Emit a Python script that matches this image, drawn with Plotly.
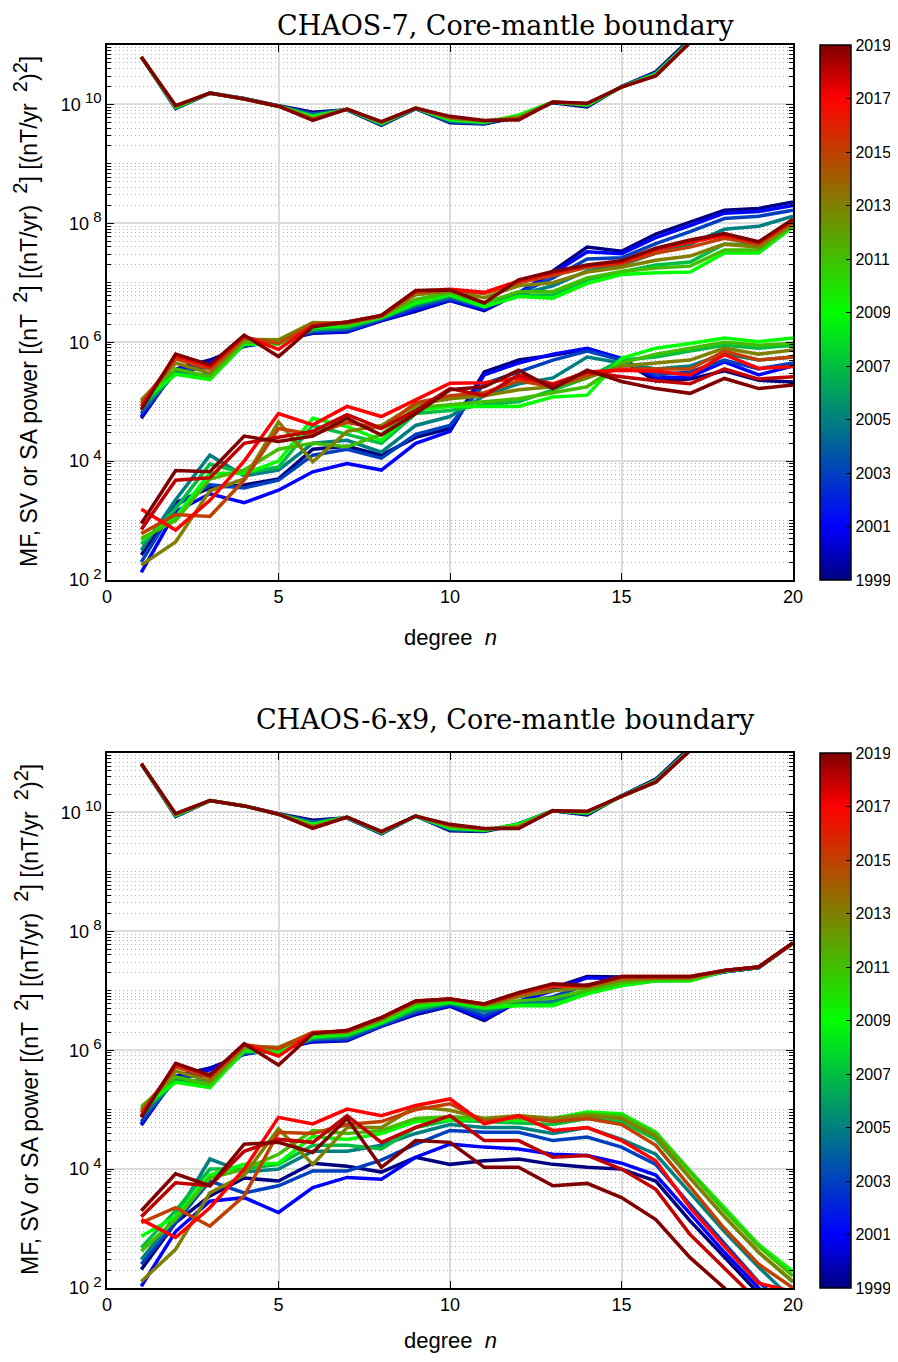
import plotly.graph_objects as go
from plotly.subplots import make_subplots
from plotly.colors import sample_colorscale

degrees = list(range(1, 21))

mf_years = [1999, 2004, 2009, 2014, 2019]
sv_years = [1999, 2001, 2003, 2005, 2007, 2009, 2011, 2013, 2015, 2017, 2019]
sa_years = [1999, 2001, 2003, 2005, 2007, 2009, 2011, 2013, 2015, 2017, 2018, 2019]
cbar_years = [1999, 2001, 2003, 2005, 2007, 2009, 2011, 2013, 2015, 2017, 2019]

# all values are log10 of the spectral power, one row per epoch, n = 1..20

# CHAOS-7, main field
mf_chaos7 = [
    [10.80, 9.93, 10.19, 10.10, 9.98, 9.87, 9.91, 9.65, 9.93, 9.69, 9.67, 9.79, 10.03, 9.96, 10.30, 10.55, 11.10, 11.45, 11.70, 11.95],
    [10.80, 9.94, 10.19, 10.10, 9.97, 9.84, 9.91, 9.66, 9.93, 9.71, 9.68, 9.81, 10.04, 9.98, 10.30, 10.53, 11.08, 11.43, 11.68, 11.93],
    [10.80, 9.95, 10.19, 10.09, 9.97, 9.80, 9.92, 9.68, 9.94, 9.74, 9.70, 9.82, 10.04, 9.99, 10.29, 10.51, 11.06, 11.42, 11.67, 11.92],
    [10.80, 9.97, 10.19, 10.09, 9.97, 9.76, 9.92, 9.70, 9.94, 9.77, 9.72, 9.78, 10.04, 10.01, 10.29, 10.49, 11.05, 11.41, 11.66, 11.91],
    [10.80, 9.98, 10.19, 10.09, 9.97, 9.73, 9.92, 9.71, 9.94, 9.80, 9.73, 9.74, 10.04, 10.02, 10.29, 10.48, 11.04, 11.40, 11.65, 11.90],
]

# CHAOS-7, secular variation
sv_chaos7 = [
    [4.72, 5.55, 5.70, 5.93, 6.03, 6.15, 6.17, 6.36, 6.52, 6.70, 6.53, 6.82, 7.20, 7.60, 7.53, 7.82, 8.02, 8.22, 8.25, 8.36],
    [4.75, 5.53, 5.66, 5.94, 6.02, 6.16, 6.18, 6.37, 6.54, 6.71, 6.55, 6.83, 7.16, 7.52, 7.49, 7.76, 7.96, 8.17, 8.20, 8.30],
    [4.80, 5.50, 5.58, 5.95, 6.00, 6.18, 6.20, 6.38, 6.58, 6.73, 6.58, 6.82, 7.08, 7.40, 7.42, 7.66, 7.86, 8.08, 8.12, 8.22],
    [4.85, 5.48, 5.45, 5.96, 5.98, 6.20, 6.23, 6.40, 6.62, 6.76, 6.60, 6.80, 6.95, 7.20, 7.30, 7.50, 7.65, 7.90, 7.95, 8.12],
    [4.92, 5.47, 5.40, 5.97, 5.97, 6.22, 6.26, 6.41, 6.64, 6.79, 6.60, 6.78, 6.80, 7.05, 7.18, 7.30, 7.35, 7.65, 7.65, 8.02],
    [5.00, 5.46, 5.37, 5.97, 5.97, 6.25, 6.28, 6.42, 6.66, 6.80, 6.60, 6.77, 6.74, 6.99, 7.14, 7.17, 7.18, 7.50, 7.50, 7.94],
    [5.03, 5.55, 5.42, 6.00, 6.00, 6.30, 6.30, 6.43, 6.72, 6.83, 6.66, 6.85, 6.85, 7.08, 7.19, 7.25, 7.28, 7.55, 7.55, 7.96],
    [5.02, 5.65, 5.48, 6.05, 6.04, 6.33, 6.32, 6.44, 6.80, 6.86, 6.75, 6.95, 7.00, 7.18, 7.26, 7.38, 7.45, 7.65, 7.60, 7.99],
    [4.97, 5.72, 5.55, 6.08, 5.98, 6.30, 6.33, 6.44, 6.84, 6.88, 6.82, 7.00, 7.12, 7.26, 7.32, 7.50, 7.60, 7.75, 7.65, 8.03],
    [4.92, 5.77, 5.59, 6.10, 5.88, 6.28, 6.34, 6.45, 6.86, 6.89, 6.84, 7.03, 7.17, 7.29, 7.35, 7.56, 7.68, 7.80, 7.68, 8.05],
    [4.87, 5.80, 5.62, 6.12, 5.76, 6.26, 6.34, 6.45, 6.87, 6.88, 6.66, 7.05, 7.19, 7.30, 7.37, 7.58, 7.72, 7.83, 7.69, 8.07],
]

# CHAOS-7, secular acceleration
sa_chaos7 = [
    [2.42, 3.30, 3.55, 3.60, 3.70, 4.20, 4.25, 4.10, 4.40, 4.55, 5.50, 5.70, 5.78, 5.88, 5.70, 5.35, 5.38, 5.52, 5.36, 5.33],
    [2.13, 3.15, 3.45, 3.30, 3.51, 3.82, 3.96, 3.85, 4.30, 4.50, 5.45, 5.65, 5.80, 5.90, 5.73, 5.40, 5.42, 5.67, 5.45, 5.60],
    [2.30, 3.25, 3.60, 3.55, 3.68, 4.10, 4.20, 4.05, 4.45, 4.60, 5.30, 5.50, 5.70, 5.85, 5.70, 5.45, 5.50, 5.70, 5.55, 5.65],
    [2.50, 3.35, 4.10, 3.75, 3.85, 4.30, 4.35, 4.15, 4.60, 4.75, 5.10, 5.30, 5.40, 5.75, 5.65, 5.55, 5.60, 5.80, 5.70, 5.75],
    [2.60, 3.20, 3.95, 3.80, 3.90, 4.60, 4.45, 4.30, 4.80, 4.85, 4.95, 5.00, 5.20, 5.40, 5.70, 5.75, 5.85, 5.95, 5.90, 5.95],
    [2.67, 3.06, 3.80, 3.79, 4.00, 4.72, 4.58, 4.35, 4.86, 4.92, 4.92, 4.92, 5.08, 5.11, 5.73, 5.90, 5.98, 6.07, 6.01, 6.07],
    [2.70, 3.00, 3.70, 3.85, 4.20, 4.30, 4.24, 4.45, 4.90, 4.95, 5.00, 5.05, 5.15, 5.25, 5.65, 5.80, 5.90, 6.00, 5.95, 5.98],
    [2.25, 2.64, 3.50, 3.70, 4.66, 3.99, 4.50, 4.60, 4.95, 5.05, 5.10, 5.20, 5.25, 5.40, 5.60, 5.65, 5.70, 5.90, 5.80, 5.87],
    [2.78, 3.10, 3.07, 3.68, 4.55, 4.45, 4.65, 4.55, 4.98, 5.10, 5.15, 5.35, 5.25, 5.45, 5.55, 5.55, 5.55, 5.85, 5.70, 5.75],
    [3.19, 2.84, 3.34, 4.00, 4.80, 4.61, 4.92, 4.75, 5.03, 5.31, 5.32, 5.40, 5.30, 5.50, 5.53, 5.51, 5.45, 5.79, 5.56, 5.59],
    [2.85, 3.68, 3.72, 4.30, 4.40, 4.50, 4.78, 4.55, 4.85, 5.22, 5.10, 5.45, 5.28, 5.50, 5.42, 5.35, 5.30, 5.55, 5.38, 5.42],
    [2.95, 3.84, 3.82, 4.42, 4.33, 4.42, 4.72, 4.44, 4.80, 5.20, 5.25, 5.53, 5.22, 5.53, 5.34, 5.22, 5.14, 5.39, 5.22, 5.28],
]

# CHAOS-6-x9, main field
mf_chaos6 = [
    [10.82, 9.93, 10.20, 10.11, 9.98, 9.87, 9.91, 9.64, 9.94, 9.69, 9.68, 9.80, 10.03, 9.96, 10.28, 10.56, 11.10, 11.45, 11.70, 11.95],
    [10.82, 9.94, 10.20, 10.11, 9.97, 9.84, 9.91, 9.65, 9.94, 9.71, 9.69, 9.81, 10.03, 9.98, 10.28, 10.54, 11.08, 11.43, 11.68, 11.93],
    [10.82, 9.95, 10.20, 10.11, 9.97, 9.80, 9.92, 9.66, 9.94, 9.74, 9.70, 9.80, 10.03, 9.99, 10.27, 10.53, 11.06, 11.42, 11.67, 11.92],
    [10.82, 9.97, 10.20, 10.11, 9.97, 9.76, 9.92, 9.67, 9.94, 9.77, 9.72, 9.76, 10.03, 10.01, 10.27, 10.52, 11.05, 11.41, 11.66, 11.91],
    [10.82, 9.98, 10.20, 10.11, 9.97, 9.73, 9.92, 9.68, 9.94, 9.80, 9.73, 9.73, 10.03, 10.02, 10.27, 10.51, 11.04, 11.40, 11.65, 11.90],
]

# CHAOS-6-x9, secular variation
sv_chaos6 = [
    [4.74, 5.56, 5.70, 5.93, 6.02, 6.14, 6.16, 6.40, 6.60, 6.74, 6.50, 6.82, 7.05, 7.24, 7.23, 7.20, 7.20, 7.32, 7.39, 7.80],
    [4.76, 5.54, 5.67, 5.94, 6.01, 6.15, 6.17, 6.41, 6.62, 6.75, 6.53, 6.82, 7.00, 7.22, 7.20, 7.19, 7.20, 7.32, 7.39, 7.80],
    [4.80, 5.52, 5.60, 5.95, 6.00, 6.17, 6.19, 6.42, 6.64, 6.77, 6.58, 6.80, 6.90, 7.10, 7.15, 7.18, 7.19, 7.32, 7.39, 7.80],
    [4.88, 5.49, 5.48, 5.96, 5.98, 6.19, 6.22, 6.44, 6.67, 6.79, 6.65, 6.78, 6.82, 7.00, 7.11, 7.17, 7.18, 7.33, 7.39, 7.80],
    [4.97, 5.47, 5.40, 5.98, 5.97, 6.21, 6.25, 6.45, 6.70, 6.80, 6.70, 6.76, 6.77, 6.96, 7.09, 7.17, 7.17, 7.33, 7.40, 7.80],
    [5.04, 5.46, 5.37, 6.00, 5.97, 6.23, 6.27, 6.47, 6.74, 6.81, 6.72, 6.75, 6.75, 6.95, 7.09, 7.17, 7.17, 7.33, 7.40, 7.80],
    [5.05, 5.55, 5.42, 6.03, 6.01, 6.27, 6.29, 6.50, 6.78, 6.84, 6.75, 6.83, 6.88, 7.00, 7.13, 7.19, 7.19, 7.34, 7.40, 7.80],
    [5.00, 5.65, 5.48, 6.06, 6.05, 6.30, 6.31, 6.52, 6.81, 6.86, 6.76, 6.90, 7.00, 7.05, 7.18, 7.21, 7.21, 7.34, 7.40, 7.80],
    [4.95, 5.72, 5.54, 6.09, 6.03, 6.30, 6.32, 6.54, 6.82, 6.86, 6.77, 6.94, 7.07, 7.08, 7.22, 7.23, 7.23, 7.34, 7.40, 7.80],
    [4.90, 5.76, 5.57, 6.10, 5.90, 6.29, 6.33, 6.55, 6.83, 6.86, 6.78, 6.96, 7.10, 7.09, 7.24, 7.24, 7.24, 7.34, 7.40, 7.80],
    [4.87, 5.78, 5.58, 6.11, 5.75, 6.28, 6.33, 6.55, 6.83, 6.86, 6.78, 6.97, 7.12, 7.09, 7.24, 7.24, 7.24, 7.34, 7.40, 7.81],
]

# CHAOS-6-x9, secular acceleration
sa_chaos6 = [
    [2.31, 3.10, 3.55, 3.85, 3.80, 4.10, 4.05, 3.95, 4.20, 4.08, 4.14, 4.17, 4.08, 4.03, 4.00, 3.80, 3.13, 2.51, 1.89, 1.30],
    [2.03, 2.95, 3.46, 3.52, 3.27, 3.69, 3.86, 3.83, 4.20, 4.42, 4.37, 4.34, 4.25, 4.23, 4.10, 3.90, 3.25, 2.60, 2.00, 1.45],
    [2.40, 3.10, 3.80, 3.60, 3.72, 3.97, 3.97, 4.15, 4.42, 4.65, 4.62, 4.62, 4.48, 4.54, 4.37, 4.08, 3.40, 2.75, 2.10, 1.60],
    [2.48, 3.20, 4.17, 3.95, 4.00, 4.30, 4.30, 4.40, 4.60, 4.75, 4.70, 4.70, 4.60, 4.70, 4.50, 4.25, 3.60, 2.95, 2.35, 1.80],
    [2.68, 3.30, 4.00, 4.00, 4.08, 4.40, 4.40, 4.34, 4.70, 4.82, 4.80, 4.78, 4.75, 4.85, 4.80, 4.50, 3.85, 3.20, 2.60, 2.10],
    [2.87, 3.20, 3.90, 4.08, 4.10, 4.55, 4.50, 4.60, 4.80, 4.82, 4.85, 4.82, 4.85, 4.96, 4.93, 4.62, 3.97, 3.35, 2.73, 2.28],
    [2.62, 3.15, 3.85, 4.00, 4.25, 4.65, 4.60, 4.65, 4.85, 4.88, 4.85, 4.85, 4.85, 4.93, 4.90, 4.60, 3.95, 3.30, 2.70, 2.20],
    [2.11, 2.65, 3.60, 3.90, 4.68, 4.08, 4.70, 4.70, 5.05, 4.99, 4.85, 4.90, 4.85, 4.90, 4.85, 4.55, 3.85, 3.20, 2.60, 2.11],
    [3.10, 3.35, 3.04, 3.55, 4.62, 4.60, 4.75, 4.80, 5.00, 5.10, 4.80, 4.88, 4.80, 4.85, 4.75, 4.40, 3.70, 3.00, 2.40, 2.00],
    [3.15, 2.85, 3.35, 4.00, 4.87, 4.76, 5.01, 4.90, 5.07, 5.18, 4.76, 4.90, 4.65, 4.70, 4.48, 4.14, 3.35, 2.70, 2.08, 1.94],
    [3.20, 3.77, 3.72, 4.30, 4.50, 4.45, 4.90, 4.45, 4.70, 4.90, 4.48, 4.48, 4.20, 4.23, 4.00, 3.66, 2.90, 2.34, 1.78, 1.20],
    [3.30, 3.92, 3.72, 4.42, 4.45, 4.28, 4.85, 4.03, 4.48, 4.45, 4.03, 4.03, 3.72, 3.76, 3.52, 3.15, 2.51, 2.00, 1.40, 0.80],
]

panel_titles = ["CHAOS-7, Core-mantle boundary", "CHAOS-6-x9, Core-mantle boundary"]


def sup(t, size):
    return f"<sup><span style='font-size:{size}px'>{t}</span></sup>"


ylabel = (
    "MF, SV or SA power [(nT" + sup("  2", 20) + "] [(nT/yr)" + sup("  2", 20)
    + "] [(nT/yr" + sup("  2", 20) + ")" + sup("2", 20) + "]"
)

jet = [
    [0.0, "rgb(0,0,128)"],
    [0.1, "rgb(0,0,255)"],
    [0.5, "rgb(0,255,0)"],
    [0.9, "rgb(255,0,0)"],
    [1.0, "rgb(128,0,0)"],
]


def year_color(year):
    return sample_colorscale(jet, [(year - 1999) / 20])[0]


# the page puts the figure 8 px in from the top-left corner
OFF = 8
FW, FH = 890, 1346


def px(x):
    return (x - OFF) / FW


def py(y):
    return 1 - (y - OFF) / FH


x_dom = [px(107), px(793)]
doms = [[py(580), py(45)], [py(1288), py(753)]]

fig = make_subplots(rows=2, cols=1)

panels = [
    [(mf_years, mf_chaos7), (sv_years, sv_chaos7), (sa_years, sa_chaos7)],
    [(mf_years, mf_chaos6), (sv_years, sv_chaos6), (sa_years, sa_chaos6)],
]

for r, groups in enumerate(panels, start=1):
    for years, table in groups:
        for year, row in zip(years, table):
            fig.add_trace(
                go.Scatter(
                    x=degrees,
                    y=[10 ** v for v in row],
                    mode="lines",
                    line=dict(color=year_color(year), width=3.5),
                    showlegend=False,
                    hoverinfo="skip",
                ),
                row=r,
                col=1,
            )
    # colorbar
    dom = doms[r - 1]
    fig.add_trace(
        go.Scatter(
            x=[None],
            y=[None],
            mode="markers",
            showlegend=False,
            marker=dict(
                color=[2009],
                colorscale=jet,
                cmin=1999,
                cmax=2019,
                showscale=True,
                colorbar=dict(
                    x=px(820),
                    xanchor="left",
                    y=dom[1],
                    yanchor="top",
                    len=dom[1] - dom[0],
                    lenmode="fraction",
                    thickness=31,
                    outlinewidth=1.5,
                    outlinecolor="black",
                    tickvals=cbar_years,
                    ticks="inside",
                    ticklen=5,
                    tickcolor="black",
                    tickfont=dict(family="Liberation Sans", size=16, color="black"),
                    xpad=0,
                    ypad=0,
                ),
            ),
        ),
        row=r,
        col=1,
    )

major = [1e2, 1e4, 1e6, 1e8, 1e10]
major_text = ["10" + sup(" " + e, 15) for e in ["2", "4", "6", "8", "10"]]
minor = [m * 10 ** k for k in range(2, 11) for m in range(1, 10) if not (m == 1 and k % 2 == 0)]

axis_common = dict(
    showline=True,
    linecolor="black",
    linewidth=1.5,
    mirror="allticks",
    ticks="inside",
    ticklen=7,
    tickcolor="black",
    zeroline=False,
    gridcolor="#dcdcdc",
    gridwidth=1.5,
    automargin=False,
)

for i in (1, 2):
    s = "" if i == 1 else str(i)
    fig.update_layout(
        {
            f"xaxis{s}": dict(
                axis_common,
                domain=x_dom,
                range=[0, 20],
                tickvals=[0, 5, 10, 15, 20],
                tickfont=dict(family="Liberation Sans", size=18, color="black"),
                anchor=f"y{s}",
            ),
            f"yaxis{s}": dict(
                axis_common,
                type="log",
                domain=doms[i - 1],
                range=[2, 11],
                tickvals=major,
                ticktext=major_text,
                tickfont=dict(family="Liberation Sans", size=18, color="black"),
                minor=dict(
                    tickvals=minor,
                    ticks="inside",
                    ticklen=4,
                    tickcolor="black",
                    showgrid=True,
                    gridcolor="#b4b4b4",
                    griddash="1px,3px",
                    gridwidth=1,
                ),
                anchor=f"x{s}",
            ),
        }
    )

# (y, anchor) of the two panel titles
title_pos = [(1.0, "top"), (py(719), "middle")]
xlabel_y = [py(637), py(1340)]
ylabel_y = [py(312), py(1020)]

for i in range(2):
    fig.add_annotation(
        text=panel_titles[i], x=px(505), y=title_pos[i][0], xref="paper", yref="paper",
        showarrow=False, xanchor="center", yanchor=title_pos[i][1],
        font=dict(family="DejaVu Serif", size=27, color="black"),
    )
    fig.add_annotation(
        text="degree  <i>n</i>", x=px(450), y=xlabel_y[i], xref="paper", yref="paper",
        showarrow=False, xanchor="center", yanchor="middle",
        font=dict(family="Liberation Sans", size=22, color="black"),
    )
    fig.add_annotation(
        text=ylabel, x=px(26), y=ylabel_y[i], xref="paper", yref="paper",
        showarrow=False, xanchor="center", yanchor="middle", textangle=-90,
        font=dict(family="Liberation Sans", size=23, color="black"),
    )

fig.update_layout(
    width=FW,
    height=FH,
    margin=dict(l=0, r=0, t=0, b=0),
    paper_bgcolor="white",
    plot_bgcolor="white",
    showlegend=False,
)

fig.write_html("out.html")
